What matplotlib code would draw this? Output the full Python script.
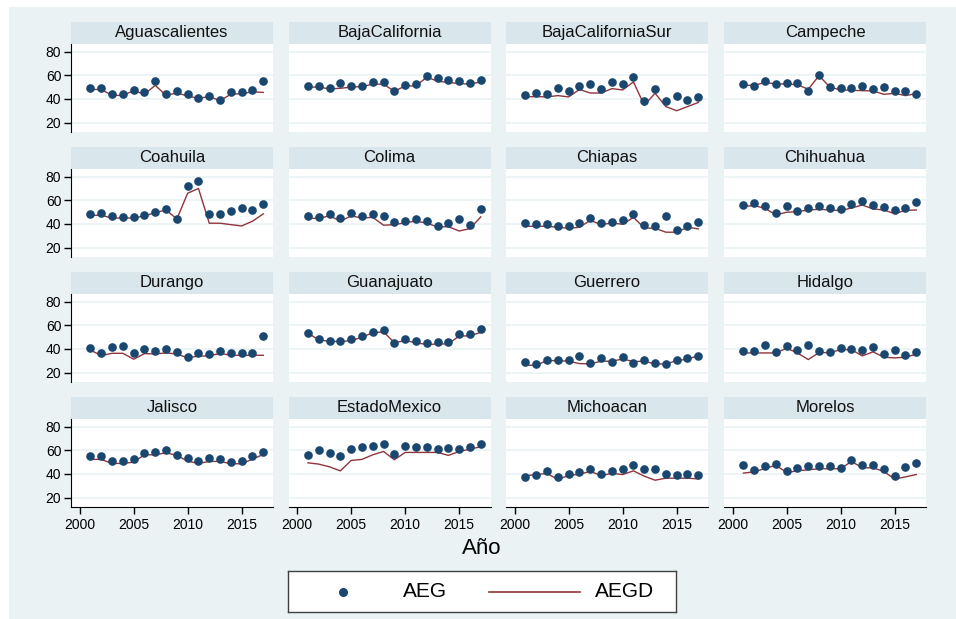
import matplotlib.pyplot as plt
from matplotlib.patches import Rectangle

plt.rcParams['font.family'] = ['Liberation Sans', 'DejaVu Sans']

# years and state panels
years = list(range(2001, 2018))
states = ['Aguascalientes', 'BajaCalifornia', 'BajaCaliforniaSur', 'Campeche',
          'Coahuila', 'Colima', 'Chiapas', 'Chihuahua',
          'Durango', 'Guanajuato', 'Guerrero', 'Hidalgo',
          'Jalisco', 'EstadoMexico', 'Michoacan', 'Morelos']

ags_aeg = [49, 49, 44, 44, 47.6, 45.6, 55.2, 44.2, 46.8, 44, 41, 42.8, 39.2, 45.6, 45.6, 47.6, 55.2]
ags_aegd = [48, 48, 43, 43, 47, 44, 51.5, 43, 45, 42.5, 40.5, 42, 38.5, 44, 44.5, 46, 45.5]
bc_aeg = [51, 51, 49.3, 53.5, 50.7, 51, 54, 54.6, 47, 52, 52.7, 59.7, 57.7, 55.8, 55.5, 53.5, 56]
bc_aegd = [50, 50, 48.5, 49, 50, 50.5, 52.5, 52.5, 46.5, 51, 51, 58.5, 55, 54, 53, 52.5, 54.5]
bcs_aeg = [43.7, 44.8, 44.5, 49.3, 46.5, 51.3, 53, 48, 54.4, 53, 58.3, 38.3, 48.2, 38.3, 42.8, 39.2, 42]
bcs_aegd = [41.7, 42, 41.7, 42.8, 41.7, 48, 45, 45, 48.7, 47.6, 54.4, 34.6, 44.8, 33.5, 30, 33.5, 37]
camp_aeg = [53, 51.3, 55, 52.7, 53.5, 53.5, 46.5, 60.6, 49.9, 49, 49.6, 51, 48.2, 50, 46.8, 46.8, 44.2]
camp_aegd = [51.5, 51.5, 54, 52.7, 52.7, 52, 48.2, 59.7, 50, 47.6, 47.3, 47, 46.8, 43.9, 44.8, 42.8, 44.5]
coah_aeg = [48.2, 49.6, 46.8, 45.6, 45.6, 47.9, 50.4, 53, 44.2, 71.8, 76.5, 48.7, 48.2, 50.7, 53.5, 51.8, 56.9]
coah_aegd = [47.3, 47.3, 45, 45, 45, 46.8, 49.6, 51.8, 44.2, 66, 70, 40.6, 40.6, 39.4, 38.3, 42.3, 48.5]
col_aeg = [46.5, 46.2, 48.7, 44.8, 49.3, 46.8, 48.7, 46.8, 42, 42.5, 44.5, 42.5, 38.3, 40.6, 44.5, 38.9, 52.7]
col_aegd = [45, 44.5, 47, 42.3, 46.8, 45, 45.6, 38.9, 39.4, 41, 42.5, 40.6, 37.5, 37.7, 34, 36, 46]
chis_aeg = [41, 40, 39.7, 38.6, 38, 41, 44.8, 40.6, 41.7, 43.7, 48.5, 39.4, 38.6, 46.8, 35.2, 38.6, 41.7]
chis_aegd = [38, 38, 38, 37.2, 36.3, 37.2, 43, 39.4, 40.8, 39.7, 45.6, 36.6, 36.3, 33, 33, 37.2, 35.8]
chih_aeg = [56, 57.7, 54.9, 49.6, 55.5, 51.3, 53.2, 54.9, 53.5, 53, 56.9, 59.4, 56.3, 54.4, 51.5, 53.8, 58.3]
chih_aegd = [54.9, 55.5, 53.2, 47.6, 49.9, 50.4, 51.8, 52.4, 51.8, 51.3, 53.5, 56, 52.7, 51.8, 48.7, 51.5, 51.8]
dgo_aeg = [40.8, 36.3, 42, 42.8, 36.6, 40, 38, 40, 37.2, 33.2, 36.3, 35.5, 38.6, 36.3, 36.3, 36.3, 50.7]
dgo_aegd = [39, 34.4, 36.3, 36.3, 31.3, 36, 35.8, 36.6, 35.8, 32.4, 34, 34, 36.3, 34.6, 34.6, 34.6, 34.6]
gto_aeg = [53.5, 48.2, 47, 46.5, 48.2, 51.3, 54.1, 55.8, 44.8, 48.2, 46.5, 44.8, 45.9, 45.9, 53, 53, 56.9]
gto_aegd = [53.5, 47.6, 46.5, 46.2, 47, 49.9, 53.8, 54.4, 45.3, 47, 45.3, 43.7, 44.2, 44.2, 51, 51, 54.1]
gro_aeg = [28.7, 27.3, 31, 31, 30.4, 34.4, 28.5, 32.1, 29, 33.2, 28.2, 31, 28.2, 27.6, 31, 32.1, 34.1]
gro_aegd = [26.2, 26.2, 30.1, 30.1, 29.6, 27.6, 27.3, 29.6, 29.6, 31.5, 29.3, 29.6, 27.3, 27.3, 30.1, 31.3, 34.4]
hgo_aeg = [38, 38.6, 43.1, 37.7, 42.5, 38.9, 43.4, 38.6, 37.7, 41, 40.3, 38.9, 41.4, 35.5, 38.9, 34.6, 37.2]
hgo_aegd = [36.6, 36.6, 36.6, 36.6, 40.6, 36.6, 31, 36.9, 36.9, 39.4, 39.4, 34.1, 37.5, 33, 32.4, 33, 35.5]
jal_aeg = [55.1, 55.1, 50.6, 50.6, 52.3, 57.6, 58.8, 60.2, 56.2, 53.1, 51.1, 53.7, 52.8, 50, 51.1, 54.8, 58.2]
jal_aegd = [52.3, 52.3, 48.9, 48.9, 50, 56.2, 56.2, 57.9, 55.7, 50.8, 48.9, 50.6, 50.6, 48.6, 48.6, 52.5, 56.5]
mex_aeg = [55.7, 60.2, 57.9, 55.1, 60.8, 62.5, 63.6, 65, 57.1, 63.6, 62.7, 62.5, 61, 62.2, 61, 62.7, 65.3]
mex_aegd = [49.4, 48.3, 46, 42.6, 51.4, 52.3, 56.2, 59, 52, 58.2, 58.2, 58.2, 58.2, 55.7, 59, 61, 63]
mich_aeg = [37.8, 39.5, 42.4, 37, 40.1, 41.8, 44.4, 40.1, 42.1, 43.8, 47.7, 44.4, 43.8, 39.8, 39, 39.8, 39.5]
mich_aegd = [38.4, 39.5, 40.4, 35.3, 38.7, 39.8, 42.1, 38.7, 40.4, 39.5, 42.6, 38.1, 34.7, 36.4, 36.4, 36.4, 35.8]
mor_aeg = [47.4, 43.2, 46.9, 48.3, 42.9, 44.9, 46.9, 46.9, 46.9, 44.9, 52, 47.2, 47.2, 44.1, 38.4, 45.8, 49.1]
mor_aegd = [40.7, 41.8, 44.6, 47.4, 41.2, 42.6, 43.5, 44.4, 44.4, 44.4, 50.6, 45.2, 45.2, 42.1, 35.6, 37.5, 39.5]

aeg_series = [ags_aeg, bc_aeg, bcs_aeg, camp_aeg, coah_aeg, col_aeg, chis_aeg, chih_aeg,
              dgo_aeg, gto_aeg, gro_aeg, hgo_aeg, jal_aeg, mex_aeg, mich_aeg, mor_aeg]
aegd_series = [ags_aegd, bc_aegd, bcs_aegd, camp_aegd, coah_aegd, col_aegd, chis_aegd, chih_aegd,
               dgo_aegd, gto_aegd, gro_aegd, hgo_aegd, jal_aegd, mex_aegd, mich_aegd, mor_aegd]

yticks = [20, 40, 60, 80]
xticks = [2000, 2005, 2010, 2015]

W, H = 956, 619
bg = '#eaf2f3'
strip_col = '#d9e6eb'
dot_col = '#1a476f'
line_col = '#90353b'

fig = plt.figure(figsize=(W / 100, H / 100), dpi=100)
fig.patches.append(Rectangle((9 / W, 0), 1, 1 - 7 / H, transform=fig.transFigure,
                             facecolor=bg, edgecolor='none', zorder=-10))

col_left = [71, 288.5, 506, 724]
row_top = [44, 169, 294, 419]
pw, ph = 202, 88
strip_h = 22

for i, name in enumerate(states):
    r, c = divmod(i, 4)
    ax = fig.add_axes([col_left[c] / W, 1 - (row_top[r] + ph) / H, pw / W, ph / H])
    ax.set_facecolor('white')
    ax.set_xlim(1999.2, 2017.9)
    ax.set_ylim(12, 86.5)
    for y in yticks:
        ax.axhline(y, color=bg, lw=1.2, zorder=0)
    ax.plot(years, aegd_series[i], color=line_col, lw=1, zorder=2)
    ax.plot(years, aeg_series[i], 'o', color=dot_col, ms=5.2, mec=dot_col, zorder=3)

    for s in ['top', 'right']:
        ax.spines[s].set_visible(False)
    ax.set_yticks(yticks)
    ax.set_xticks(xticks)
    if c == 0:
        ax.spines['left'].set_color('black')
        ax.tick_params(axis='y', length=5, width=1, pad=2, labelsize=10)
    else:
        ax.spines['left'].set_visible(False)
        ax.tick_params(axis='y', left=False, labelleft=False)
    if r == 3:
        ax.spines['bottom'].set_color('black')
        ax.tick_params(axis='x', length=5, width=1, pad=3, labelsize=10)
    else:
        ax.spines['bottom'].set_visible(False)
        ax.tick_params(axis='x', bottom=False, labelbottom=False)

    # title strip above each panel
    sh = strip_h / ph
    ax.add_patch(Rectangle((0, 1), 1, sh, transform=ax.transAxes, clip_on=False,
                           facecolor=strip_col, edgecolor='none'))
    ax.text(0.5, 1 + sh / 2, name, transform=ax.transAxes, ha='center', va='center',
            fontsize=12, color='#111111')

fig.text(482 / W, 1 - 549 / H, 'Año', ha='center', va='center', fontsize=16)

# legend box
lg = fig.add_axes([288 / W, 1 - 612 / H, 388 / W, 41 / H])
lg.set_xlim(0, 1)
lg.set_ylim(0, 1)
lg.set_xticks([])
lg.set_yticks([])
lg.set_facecolor('white')
for s in lg.spines.values():
    s.set_color('#404040')
    s.set_linewidth(1)
lg.plot([0.142], [0.5], 'o', color=dot_col, ms=5.5)
lg.text(0.296, 0.5, 'AEG', ha='left', va='center', fontsize=15)
lg.plot([0.518, 0.753], [0.5, 0.5], color=line_col, lw=1.2)
lg.text(0.791, 0.5, 'AEGD', ha='left', va='center', fontsize=15)

fig.savefig('out.png', dpi=100)
